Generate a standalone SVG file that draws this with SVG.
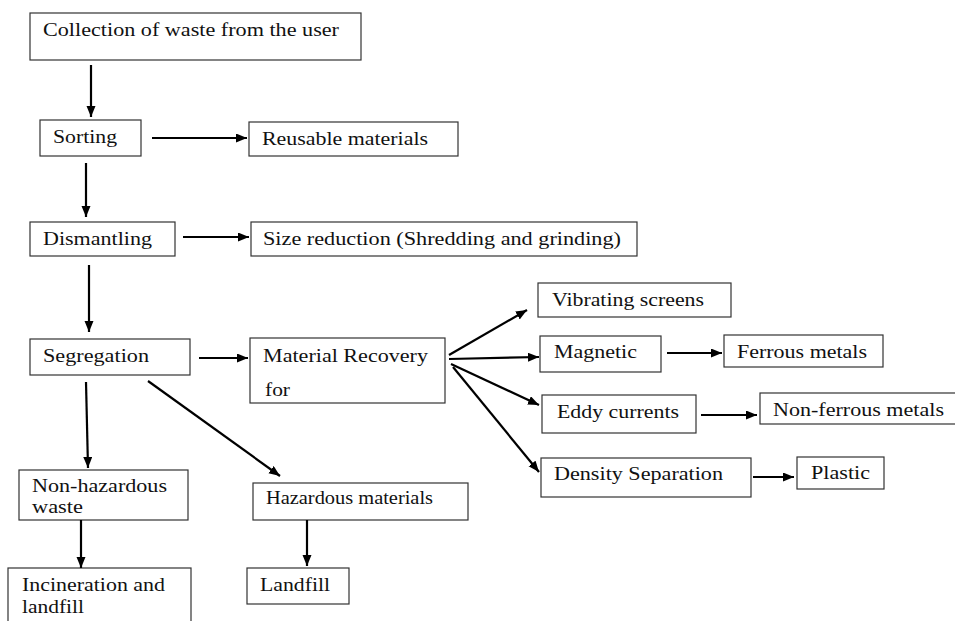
<svg xmlns="http://www.w3.org/2000/svg" width="955" height="621" viewBox="0 0 955 621">
<style>
.box{fill:#fff;stroke:#333;stroke-width:1.2}
.t{font-family:'Liberation Serif','Tinos','DejaVu Serif',serif;font-size:19px;fill:#111}
.c line{stroke:#000;stroke-width:2.2;marker-end:url(#ah)}
</style>
<defs>
<marker id="ah" markerUnits="userSpaceOnUse" markerWidth="12" markerHeight="10" refX="11" refY="4.5" orient="auto">
<path d="M0,0 L11,4.5 L0,9 z" fill="#000"/>
</marker>
</defs>
<rect width="955" height="621" fill="#fff"/>
<g id="n-collection"><rect class="box" x="30" y="13" width="331" height="47"/><text class="t" x="43" y="36" textLength="296" lengthAdjust="spacingAndGlyphs">Collection of waste from the user</text></g>
<g id="n-sorting"><rect class="box" x="40" y="120" width="101" height="36"/><text class="t" x="53" y="143" textLength="64" lengthAdjust="spacingAndGlyphs">Sorting</text></g>
<g id="n-reusable"><rect class="box" x="249" y="122" width="209" height="34"/><text class="t" x="262" y="145" textLength="166" lengthAdjust="spacingAndGlyphs">Reusable materials</text></g>
<g id="n-dismantling"><rect class="box" x="30" y="222" width="145" height="34"/><text class="t" x="43" y="245" textLength="109" lengthAdjust="spacingAndGlyphs">Dismantling</text></g>
<g id="n-size"><rect class="box" x="251" y="222" width="386" height="34"/><text class="t" x="263" y="245" textLength="358" lengthAdjust="spacingAndGlyphs">Size reduction (Shredding and grinding)</text></g>
<g id="n-segregation"><rect class="box" x="30" y="339" width="160" height="36"/><text class="t" x="43" y="362" textLength="106" lengthAdjust="spacingAndGlyphs">Segregation</text></g>
<g id="n-recovery"><rect class="box" x="250" y="338" width="195" height="65"/><text class="t" x="263" y="362" textLength="165" lengthAdjust="spacingAndGlyphs">Material Recovery</text><text class="t" x="265" y="396" textLength="25" lengthAdjust="spacingAndGlyphs">for</text></g>
<g id="n-nonhaz"><rect class="box" x="19" y="470" width="169" height="50"/><text class="t" x="32" y="492" textLength="135" lengthAdjust="spacingAndGlyphs">Non-hazardous</text><text class="t" x="32" y="513" textLength="51" lengthAdjust="spacingAndGlyphs">waste</text></g>
<g id="n-haz"><rect class="box" x="253" y="483" width="215" height="37"/><text class="t" x="266" y="504" textLength="167" lengthAdjust="spacingAndGlyphs">Hazardous materials</text></g>
<g id="n-incineration"><rect class="box" x="8" y="568" width="183" height="60"/><text class="t" x="22" y="591" textLength="143" lengthAdjust="spacingAndGlyphs">Incineration and</text><text class="t" x="22" y="613" textLength="62" lengthAdjust="spacingAndGlyphs">landfill</text></g>
<g id="n-landfill"><rect class="box" x="247" y="568" width="102" height="36"/><text class="t" x="260" y="591" textLength="70" lengthAdjust="spacingAndGlyphs">Landfill</text></g>
<g id="n-vibrating"><rect class="box" x="538" y="283" width="193" height="34"/><text class="t" x="552" y="306" textLength="152" lengthAdjust="spacingAndGlyphs">Vibrating screens</text></g>
<g id="n-magnetic"><rect class="box" x="540" y="336" width="121" height="36"/><text class="t" x="554" y="358" textLength="83" lengthAdjust="spacingAndGlyphs">Magnetic</text></g>
<g id="n-ferrous"><rect class="box" x="724" y="335" width="159" height="32"/><text class="t" x="737" y="358" textLength="130" lengthAdjust="spacingAndGlyphs">Ferrous metals</text></g>
<g id="n-eddy"><rect class="box" x="542" y="395" width="154" height="38"/><text class="t" x="557" y="418" textLength="122" lengthAdjust="spacingAndGlyphs">Eddy currents</text></g>
<g id="n-nonferrous"><rect class="box" x="760" y="393" width="200" height="31"/><text class="t" x="773" y="416" textLength="171" lengthAdjust="spacingAndGlyphs">Non-ferrous metals</text></g>
<g id="n-density"><rect class="box" x="541" y="458" width="210" height="39"/><text class="t" x="554" y="480" textLength="169" lengthAdjust="spacingAndGlyphs">Density Separation</text></g>
<g id="n-plastic"><rect class="box" x="797" y="457" width="87" height="32"/><text class="t" x="811" y="479" textLength="59" lengthAdjust="spacingAndGlyphs">Plastic</text></g>
<g id="connectors" class="c">
<line x1="91" y1="65" x2="91" y2="117"/>
<line x1="152" y1="138" x2="247" y2="138"/>
<line x1="86" y1="163" x2="86" y2="217"/>
<line x1="183" y1="237" x2="249" y2="237"/>
<line x1="89" y1="265" x2="89" y2="332"/>
<line x1="199" y1="358" x2="248" y2="358"/>
<line x1="86" y1="382" x2="88" y2="468"/>
<line x1="148" y1="381" x2="280" y2="476"/>
<line x1="81" y1="520" x2="81" y2="568"/>
<line x1="307" y1="520" x2="307" y2="566"/>
<line x1="449" y1="355" x2="527" y2="310"/>
<line x1="449" y1="359" x2="539" y2="357"/>
<line x1="451" y1="364" x2="539" y2="405"/>
<line x1="453" y1="367" x2="539" y2="472"/>
<line x1="667" y1="353" x2="722" y2="353"/>
<line x1="701" y1="415" x2="757" y2="415"/>
<line x1="753" y1="477" x2="794" y2="477"/>
</g>
</svg>
